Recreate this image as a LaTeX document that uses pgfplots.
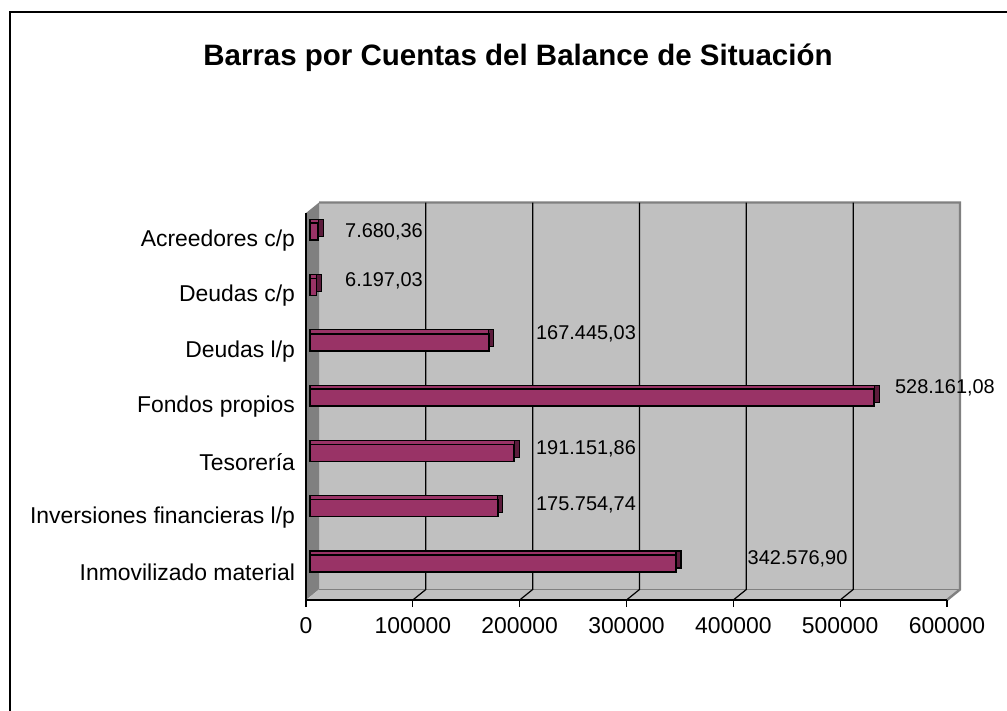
\documentclass[border=0pt]{standalone}
\usepackage{fontspec}
\setmainfont{Liberation Sans}
\usepackage{pgfplots}
\pgfplotsset{compat=1.18}
\definecolor{barra}{RGB}{153,51,102}
\definecolor{barralado}{RGB}{92,28,60}
\definecolor{pared}{RGB}{192,192,192}
\definecolor{paredlado}{RGB}{128,128,128}

% back wall depth offset
\def\dx{6.5bp}
\def\dy{5.25bp}

\begin{document}
\begin{tikzpicture}[x=1bp,y=1bp]
\begin{axis}[
  set layers,
  at={(0,0)}, anchor=south west,
  scale only axis,
  width=320.5bp, height=193.5bp,
  xmin=0, xmax=600000, ymin=-0.5, ymax=6.5,
  clip=false,
  axis lines*=left,
  axis line style={black, line width=0.8bp},
  tick align=outside,
  xtick={0,100000,...,600000},
  scaled x ticks=false,
  /pgf/number format/fixed,
  /pgf/number format/1000 sep={},
  /pgf/number format/assume math mode=true,
  major tick length=3.5bp,
  ytick={0,...,6},
  yticklabels={Inmovilizado material, Inversiones financieras l/p, Tesorería, Fondos propios, Deudas l/p, Deudas c/p, Acreedores c/p},
  ytick style={draw=none},
  minor ytick={-0.5,0.5,...,6.5},
  minor tick length=3bp,
  minor tick style={black, line width=0.6bp},
  x tick style={black, line width=0.6bp},
  tick label style={font=\fontsize{11.5}{13}\selectfont},
  xticklabel style={yshift=-1.5bp},
  yticklabel style={xshift=1.5bp},
]
\begin{pgfonlayer}{axis background}
  % back wall
  \fill[pared] ([shift={(\dx,\dy)}]axis cs:0,-0.5) rectangle ([shift={(\dx,\dy)}]axis cs:600000,6.5);
  % side wall
  \fill[paredlado] (axis cs:0,-0.5) -- (axis cs:0,6.5) -- ([shift={(\dx,\dy)}]axis cs:0,6.5) -- ([shift={(\dx,\dy)}]axis cs:0,-0.5) -- cycle;
  % floor
  \fill[pared] (axis cs:0,-0.5) -- (axis cs:600000,-0.5) -- ([shift={(\dx,\dy)}]axis cs:600000,-0.5) -- ([shift={(\dx,\dy)}]axis cs:0,-0.5) -- cycle;
  \draw[paredlado, line width=0.6bp] ([shift={(\dx,\dy)}]axis cs:0,-0.5) -- ([shift={(\dx,\dy)}]axis cs:600000,-0.5);
  \draw[paredlado, line width=1.2bp] ([shift={(\dx,\dy)}]axis cs:0,6.5) -- ([shift={(\dx,\dy)}]axis cs:600000,6.5) -- ([shift={(\dx,\dy)}]axis cs:600000,-0.5) -- (axis cs:600000,-0.5);
  \pgfplotsinvokeforeach{100000,200000,300000,400000,500000}{
    \draw[black, line width=0.6bp] (axis cs:#1,-0.5) -- ([shift={(\dx,\dy)}]axis cs:#1,-0.5) -- ([shift={(\dx,\dy)}]axis cs:#1,6.5);
  }
\end{pgfonlayer}

% dark side face
\addplot[xbar, bar width=8.5bp, bar shift=6.45bp, fill=barralado, draw=black, line width=0.6bp, xshift=4.5bp]
  table {
x y
342576.90 0
175754.74 1
191151.86 2
528161.08 3
167445.03 4
6197.03 5
7680.36 6
};
% top face
\addplot[xbar, bar width=8.5bp, bar shift=6.45bp, fill=barra, draw=black, line width=0.6bp, xshift=2bp]
  table {
x y
342576.90 0
175754.74 1
191151.86 2
528161.08 3
167445.03 4
6197.03 5
7680.36 6
};
% front face
\addplot[xbar, bar width=8.5bp, bar shift=4.45bp, fill=barra, draw=black, line width=0.8bp, xshift=2bp]
  table {
x y
342576.90 0
175754.74 1
191151.86 2
528161.08 3
167445.03 4
6197.03 5
7680.36 6
};
% data labels
\addplot[draw=none, mark=none, nodes near coords, point meta=explicit symbolic,
  every node near coord/.append style={anchor=center, font=\fontsize{10}{12}\selectfont, inner sep=0pt}]
  table[meta=l] {
x y l
460100 0.245 342.576,90
262100 1.221 175.754,74
262100 2.234 191.151,86
598100 3.337 528.161,08
262100 4.314 167.445,03
73000 5.273 6.197,03
73000 6.159 7.680,36
};
\end{axis}
% title
\node[font=\bfseries\fontsize{14.8}{17}\selectfont] at (106bp,271bp) {Barras por Cuentas del Balance de Situación};
% chart frame (only top and left edges visible)
\draw[black, line width=1bp] (-148bp,-55.5bp) -- (-148bp,294bp) -- (350.5bp,294bp);
\pgfresetboundingbox
\path (-153bp,-55.5bp) rectangle (350.5bp,300bp);
\end{tikzpicture}
\end{document}
